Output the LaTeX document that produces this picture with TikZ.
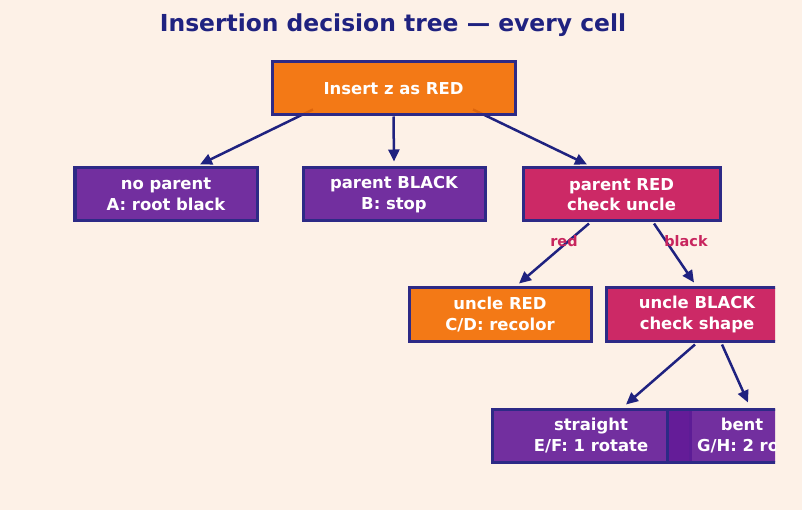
\documentclass[tikz,border=0pt]{standalone}
\usepackage{fontspec}
\setmainfont{DejaVu Sans}
\usetikzlibrary{arrows.meta,calc}
\definecolor{bgc}{HTML}{FDF1E7}
\definecolor{navy}{HTML}{1F2280}
\definecolor{bordc}{HTML}{2D2A86}
\definecolor{orng}{HTML}{F36D00}
\definecolor{purp}{HTML}{631B98}
\definecolor{crim}{HTML}{C71458}
\definecolor{lblc}{HTML}{C8255E}
\pgfdeclarelayer{bg}
\pgfsetlayers{bg,main}
\tikzset{
  box/.style={draw=bordc, line width=3bp, fill opacity=0.9, text opacity=1,
    minimum height=53bp, inner sep=0pt, align=center, text=white,
    font=\bfseries\fontsize{16.5}{20.5}\selectfont},
  orangebox/.style={box, fill=orng},
  purplebox/.style={box, fill=purp},
  crimbox/.style={box, fill=crim},
  conn/.style={draw=navy, line width=2.5bp, -{Triangle[length=12bp,width=11bp]}},
  lbl/.style={text=lblc, font=\bfseries\fontsize{14.5}{16}\selectfont, inner sep=0pt}
}
\begin{document}
\begin{tikzpicture}[x=1bp,y=-1bp]
\begin{pgfonlayer}{bg}
\fill[bgc] (0,0) rectangle (802,510);
\end{pgfonlayer}
\useasboundingbox (0,0) rectangle (802,510);
\node[text=navy, font=\bfseries\fontsize{23.5}{27}\selectfont] (title) at (393,25) {Insertion decision tree — every cell};
\begin{scope}
\clip (0,0) rectangle (775,510);
\node[orangebox, minimum width=243bp] (root) at (393.5,88.5) {Insert z as RED};
\node[purplebox, minimum width=182bp] (A) at (166,194.5) {no parent\\A: root black};
\node[purplebox, minimum width=182bp] (B) at (394,194.5) {parent BLACK\\B: stop};
\node[crimbox, minimum width=197bp] (C) at (621.5,194.5) {parent RED\\check uncle};
\node[orangebox, minimum width=182bp] (UR) at (500,314.5) {uncle RED\\C/D: recolor};
\node[crimbox, minimum width=182bp] (UB) at (697,314.5) {uncle BLACK\\check shape};
\node[purplebox, minimum width=198bp] (S) at (591,435.5) {straight\\E/F: 1 rotate};
\node[purplebox, minimum width=150bp] (Bt) at (742,435.5) {bent\\G/H: 2 rot};
\end{scope}
\begin{pgfonlayer}{bg}
\draw[conn] ($(root.south)+(-80.5,-7)$) -- ($(A.north)+(34,-2)$);
\draw[conn] (root.south) -- ($(B.north)+(0,-5)$);
\draw[conn] ($(root.south)+(79.5,-7)$) -- ($(C.north)+(-34.5,-2)$);
\draw[conn] ($(C.south)+(-32.5,1)$) -- ($(UR.north)+(19,-3)$);
\draw[conn] ($(C.south)+(32.5,1)$) -- ($(UB.north)+(-3,-4)$);
\draw[conn] ($(UB.south)+(-2,2)$) -- ($(S.north)+(35,-3)$);
\draw[conn] ($(UB.south)+(25,2)$) -- ($(Bt.north)+(6,-5)$);
\end{pgfonlayer}
\node[lbl] (lred) at (564,241) {red};
\node[lbl] (lblack) at (686,241) {black};
\end{tikzpicture}
\end{document}
